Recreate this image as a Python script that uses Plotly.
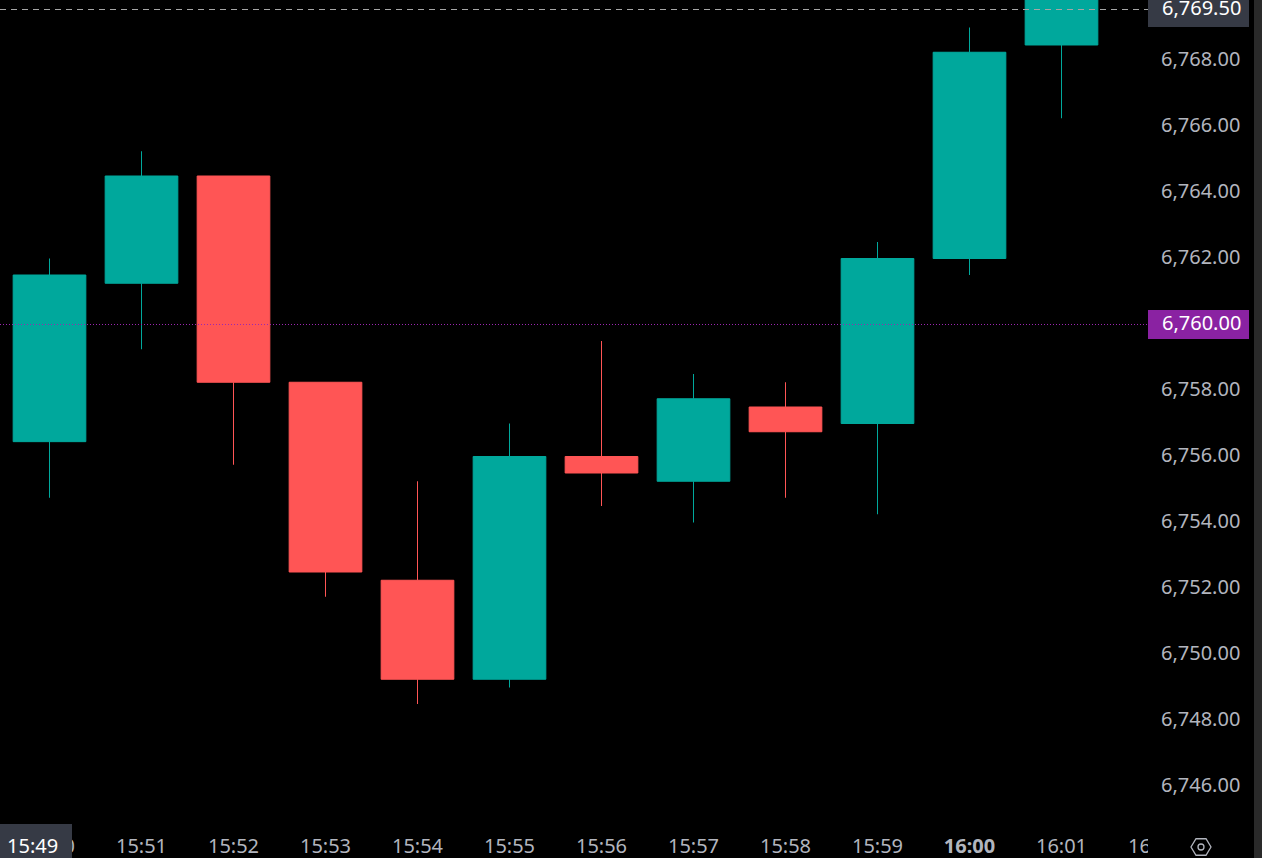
import math
import plotly.graph_objects as go

times = ["15:50","15:51","15:52","15:53","15:54","15:55","15:56","15:57","15:58","15:59","16:00","16:01"]
opens = [6756.45,6761.25,6764.5,6758.25,6752.25,6749.25,6756.0,6755.25,6757.5,6757.0,6762.0,6768.47]
highs = [6762.0,6765.25,6764.5,6758.25,6755.25,6757.0,6759.5,6758.5,6758.25,6762.5,6769.0,6770.5]
lows = [6754.75,6759.25,6755.75,6751.75,6748.5,6749.0,6754.5,6754.0,6754.75,6754.25,6761.5,6766.25]
closes = [6761.5,6764.5,6758.25,6752.5,6749.25,6756.0,6755.5,6757.75,6756.75,6762.0,6768.25,6770.5]
tick_times = times + ["16:02"]
price_ticks = [6746,6748,6750,6752,6754,6756,6758,6762,6764,6766,6768]
last_price = 6769.5
last_line = 6769.545
marked_price = 6760.0

W, H = 1262, 858
PLOT_R, PLOT_B = 1155, 825
FIRST_X, STEP = 49.5, 92.0
ZERO_Y, PER_UNIT = 324.5, 33.0
LABEL_LIFT = 2.0

GREEN, RED = "#00a89c", "#ff5555"
GREY_TEXT = "#b2b5be"
PANEL = "#363a45"
PURPLE = "#8a22a2"
FONT = "Noto Sans"

def px(x):
    return x / PLOT_R
def py(y):
    return 1 - y / PLOT_B
def rect(x0, y0, x1, y1, color):
    return dict(type="rect", xref="paper", yref="paper", x0=px(x0), x1=px(x1), y0=py(y0), y1=py(y1),
                fillcolor=color, line_width=0, layer="above")
def label(x, y, text, color, size=20, anchor="center"):
    return dict(xref="paper", yref="paper", x=px(x), y=py(y), text=text, showarrow=False,
                xanchor=anchor, yanchor="middle", font=dict(family=FONT, size=size, color=color))

x_vals = list(range(len(times)))
fig = go.Figure(go.Candlestick(
    x=x_vals, open=opens, high=highs, low=lows, close=closes,
    increasing=dict(line=dict(color=GREEN, width=1), fillcolor=GREEN),
    decreasing=dict(line=dict(color=RED, width=1), fillcolor=RED),
    whiskerwidth=0,
))
# Carrier for the price-label axis, which sits LABEL_LIFT pixels above the candle scale.
fig.add_trace(go.Scatter(x=[None], y=[None], yaxis="y2", hoverinfo="skip"))

hexagon = "M " + " L ".join(
    f"{px(1201 + 10 * math.cos(math.radians(a))):.5f},{py(847 + 9.5 * math.sin(math.radians(a))):.5f}"
    for a in range(0, 360, 60)) + " Z"

shapes = [
    dict(type="line", xref="paper", yref="y", x0=0, x1=px(1148), y0=last_line, y1=last_line,
         line=dict(color="#a6a6a6", width=1, dash="6px 5px"), layer="above"),
    dict(type="line", xref="paper", yref="y", x0=0, x1=px(1148), y0=marked_price, y1=marked_price,
         line=dict(color="#9c27b0", width=1, dash="1px 2px"), layer="above"),
    rect(1148, 825, 1262, 858, "#000000"),
    rect(1254, 0, 1262, 858, "#2a2a2a"),
    rect(0, 824, 72, 858, PANEL),
    rect(1148, 0, 1249, 27, PANEL),
    rect(1148, 310, 1249, 339, PURPLE),
    dict(type="path", xref="paper", yref="paper", path=hexagon, line=dict(color=GREY_TEXT, width=1.3), layer="above"),
    dict(type="circle", xref="paper", yref="paper", x0=px(1198), x1=px(1204), y0=py(850), y1=py(844),
         line=dict(color=GREY_TEXT, width=1.3), layer="above"),
]

annotations = [
    label(1201, 7, f"{last_price:,.2f}", "#ffffff"),
    label(1201, 322.5, f"{marked_price:,.2f}", "#ffffff"),
    label(32, 845.5, "15:49", "#ffffff"),
]

y_low = marked_price - (PLOT_B - ZERO_Y) / PER_UNIT
y_high = marked_price + ZERO_Y / PER_UNIT
lift = LABEL_LIFT / PER_UNIT

fig.update_layout(
    width=W, height=H, margin=dict(l=0, r=W - PLOT_R, t=0, b=H - PLOT_B),
    paper_bgcolor="#000000", plot_bgcolor="#000000", showlegend=False, boxgap=0.21, boxgroupgap=0,
    shapes=shapes, annotations=annotations,
    font=dict(family=FONT, size=20, color=GREY_TEXT),
    xaxis=dict(
        range=[-FIRST_X / STEP, (PLOT_R - FIRST_X) / STEP],
        tickmode="array", tickvals=list(range(len(tick_times))),
        ticktext=[f"<b>{t}</b>" if t == "16:00" else t for t in tick_times],
        showgrid=False, zeroline=False, showline=False, ticks="", rangeslider=dict(visible=False),
        ticklabeloverflow="allow", ticklabelstandoff=7,
    ),
    yaxis=dict(
        side="right", range=[y_low, y_high], showticklabels=False,
        showgrid=False, zeroline=False, showline=False, ticks="",
    ),
    yaxis2=dict(
        overlaying="y", side="right", range=[y_low - lift, y_high - lift],
        tickmode="array", tickvals=price_ticks, ticktext=[f"{p:,.2f}" for p in price_ticks],
        showgrid=False, zeroline=False, showline=False, ticks="", ticklabelstandoff=5,
    ),
)

fig.write_html("out.html", config=dict(displayModeBar=False),
               post_script="document.body.style.margin='0';document.body.style.overflow='hidden';")
